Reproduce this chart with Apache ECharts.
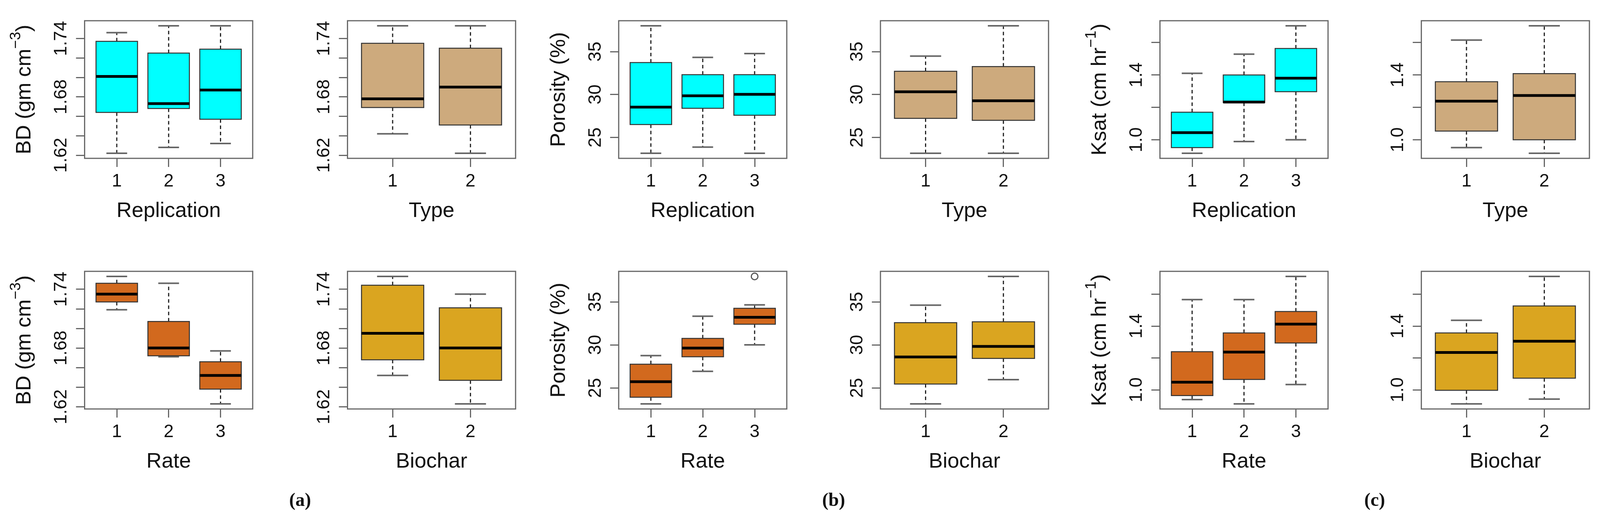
<!DOCTYPE html>
<html>
<head>
<meta charset="utf-8">
<script src="https://cdn.jsdelivr.net/npm/echarts@6/dist/echarts.min.js"></script>
<style>
html,body{margin:0;padding:0;background:#ffffff;overflow:hidden;}
#chart{width:100vw;height:100vh;}
</style>
</head>
<body>
<div id="chart"></div>
<script>
// ---------- categories (group codes on the x axes) ----------
const replicationGroups = [1, 2, 3];
const typeGroups = [1, 2];
const rateGroups = [1, 2, 3];
const biocharGroups = [1, 2];

// ---------- box statistics: [lower whisker, Q1, median, Q3, upper whisker] ----------
// (a) Bulk density, gm cm^-3
const bdReplication = [
  [1.622, 1.664, 1.701, 1.737, 1.746],
  [1.628, 1.668, 1.673, 1.725, 1.753],
  [1.632, 1.657, 1.687, 1.729, 1.753]
];
const bdType = [
  [1.642, 1.669, 1.678, 1.735, 1.753],
  [1.622, 1.651, 1.690, 1.730, 1.753]
];
const bdRate = [
  [1.719, 1.727, 1.735, 1.746, 1.753],
  [1.671, 1.672, 1.680, 1.707, 1.746],
  [1.623, 1.638, 1.652, 1.666, 1.677]
];
const bdBiochar = [
  [1.652, 1.668, 1.695, 1.744, 1.753],
  [1.623, 1.647, 1.680, 1.721, 1.735]
];

// (b) Porosity, %
const porosityReplication = [
  [23.16, 26.50, 28.53, 33.72, 38.00],
  [23.87, 28.40, 29.85, 32.31, 34.32],
  [23.16, 27.59, 30.02, 32.31, 34.77]
];
const porosityType = [
  [23.16, 27.22, 30.32, 32.71, 34.47],
  [23.16, 26.99, 29.27, 33.25, 38.00]
];
const porosityRate = [
  [23.15, 23.92, 25.73, 27.76, 28.76],
  [26.93, 28.62, 29.63, 30.75, 33.33],
  [30.00, 32.40, 33.21, 34.25, 34.65]
];
const porosityRateOutliers = [[3, 37.95]];
const porosityBiochar = [
  [23.15, 25.45, 28.60, 32.58, 34.61],
  [25.96, 28.43, 29.82, 32.68, 37.95]
];

// (c) Ksat, cm hr^-1
const ksatReplication = [
  [0.917, 0.952, 1.044, 1.170, 1.410],
  [0.989, 1.230, 1.233, 1.400, 1.528],
  [1.000, 1.297, 1.380, 1.563, 1.703]
];
const ksatType = [
  [0.952, 1.054, 1.238, 1.358, 1.615],
  [0.917, 1.000, 1.273, 1.408, 1.703]
];
const ksatRate = [
  [0.939, 0.964, 1.048, 1.239, 1.566],
  [0.912, 1.065, 1.237, 1.357, 1.566],
  [1.033, 1.294, 1.412, 1.491, 1.711]
];
const ksatBiochar = [
  [0.912, 0.997, 1.234, 1.357, 1.436],
  [0.942, 1.073, 1.305, 1.526, 1.711]
];

// ---------- tick values and labels ----------
const bdTicks = [1.62, 1.64, 1.66, 1.68, 1.70, 1.72, 1.74];
const bdTickLabels = [1.62, 1.68, 1.74];
const porosityTicks = [25, 30, 35];
const porosityTickLabels = [25, 30, 35];
const ksatTicks = [1.0, 1.2, 1.4, 1.6];
const ksatTickLabels = [1.0, 1.4];

// axis titles: [main text, superscript, closing text]
const bdTitle = ['BD (gm cm', '\u22123', ')'];
const porosityTitle = ['Porosity (%)', '', ''];
const ksatTitle = ['Ksat (cm hr', '\u22121', ')'];
const panelTags = ['(a)', '(b)', '(c)'];

// ---------- colours ----------
const colReplication = '#00FFFF';
const colType = '#CDAA7D';
const colRate = '#D2691E';
const colBiochar = '#DAA520';

// ---------- layout (reference pixels, 4236 x 1353 canvas) ----------
const REF_W = 4236, REF_H = 1353;
const colLefts = [224, 920, 1638, 2331, 3071, 3763];
const panelW = 445;
const rowTops = [53, 694];
const panelH = 352;
const tagY = 1282;
const FONT = '"Liberation Sans", Arial, "DejaVu Sans", sans-serif';

const variables = [
  {title: bdTitle, ticks: bdTicks, labels: bdTickLabels, dec: 2,
   panels: [[bdReplication, replicationGroups, 'Replication', colReplication, []],
            [bdType, typeGroups, 'Type', colType, []],
            [bdRate, rateGroups, 'Rate', colRate, []],
            [bdBiochar, biocharGroups, 'Biochar', colBiochar, []]]},
  {title: porosityTitle, ticks: porosityTicks, labels: porosityTickLabels, dec: 0,
   panels: [[porosityReplication, replicationGroups, 'Replication', colReplication, []],
            [porosityType, typeGroups, 'Type', colType, []],
            [porosityRate, rateGroups, 'Rate', colRate, porosityRateOutliers],
            [porosityBiochar, biocharGroups, 'Biochar', colBiochar, []]]},
  {title: ksatTitle, ticks: ksatTicks, labels: ksatTickLabels, dec: 1,
   panels: [[ksatReplication, replicationGroups, 'Replication', colReplication, []],
            [ksatType, typeGroups, 'Type', colType, []],
            [ksatRate, rateGroups, 'Rate', colRate, []],
            [ksatBiochar, biocharGroups, 'Biochar', colBiochar, []]]}
];

function renderBox(params, api) {
  const x = api.value(0);
  const lo = api.coord([x, api.value(1)]);
  const q1 = api.coord([x, api.value(2)]);
  const md = api.coord([x, api.value(3)]);
  const q3 = api.coord([x, api.value(4)]);
  const hi = api.coord([x, api.value(5)]);
  const cx = md[0];
  const hw = api.size([0.8, 0])[0] / 2;
  const sw = hw / 2;
  const color = api.visual('color');
  const dash = {stroke: '#222', lineWidth: 3, lineDash: [9, 7]};
  const staple = {stroke: '#666', lineWidth: 4};
  return {
    type: 'group',
    children: [
      {type: 'line', shape: {x1: cx, y1: q3[1], x2: cx, y2: hi[1]}, style: dash},
      {type: 'line', shape: {x1: cx, y1: q1[1], x2: cx, y2: lo[1]}, style: dash},
      {type: 'line', shape: {x1: cx - sw, y1: hi[1], x2: cx + sw, y2: hi[1]}, style: staple},
      {type: 'line', shape: {x1: cx - sw, y1: lo[1], x2: cx + sw, y2: lo[1]}, style: staple},
      {type: 'rect', shape: {x: cx - hw, y: q3[1], width: 2 * hw, height: q1[1] - q3[1]},
       style: {fill: color, stroke: '#333', lineWidth: 2.5}},
      {type: 'line', shape: {x1: cx - hw, y1: md[1], x2: cx + hw, y2: md[1]},
       style: {stroke: '#000', lineWidth: 7}}
    ]
  };
}

const chart = echarts.init(document.getElementById('chart'), null, {renderer: 'canvas'});
const sx = chart.getWidth() / REF_W;
const sy = chart.getHeight() / REF_H;

const grids = [], xAxes = [], yAxes = [], series = [], graphics = [];

variables.forEach(function (v, vi) {
  v.panels.forEach(function (p, pi) {
    const stats = p[0], groups = p[1], xname = p[2], color = p[3], outl = p[4];
    const row = pi < 2 ? 0 : 1;
    const colIdx = vi * 2 + (pi % 2);
    const idx = grids.length;
    grids.push({left: colLefts[colIdx] * sx, top: rowTops[row] * sy, width: panelW * sx, height: panelH * sy,
      show: true, borderColor: '#666', borderWidth: 3, backgroundColor: 'transparent',
      containLabel: false, outerBoundsMode: 'none'});

    // R style axis limits: range of values extended by 4 %
    let vals = [];
    stats.forEach(function (s) { vals = vals.concat(s); });
    outl.forEach(function (o) { vals.push(o[1]); });
    const vmin = Math.min.apply(null, vals), vmax = Math.max.apply(null, vals);
    const r = vmax - vmin;
    const n = groups.length;
    xAxes.push({
      gridIndex: idx, type: 'value',
      min: 0.5 - 0.04 * n, max: n + 0.5 + 0.04 * n,
      axisLine: {show: false},
      splitLine: {show: false},
      axisTick: {show: true, customValues: groups, length: 22, lineStyle: {color: '#666', width: 3}},
      axisLabel: {show: true, customValues: groups, margin: 36, fontSize: 46, color: '#111', fontFamily: FONT,
        formatter: function (val) { return String(Math.round(val)); }},
      name: xname, nameLocation: 'middle', nameGap: 108,
      nameTextStyle: {fontSize: 54, color: '#111', fontFamily: FONT}
    });
    const dec = v.dec;
    const ya = {
      gridIndex: idx, type: 'value',
      min: vmin - 0.04 * r, max: vmax + 0.04 * r,
      axisLine: {show: false},
      splitLine: {show: false},
      axisTick: {show: true, customValues: v.ticks, length: 22, lineStyle: {color: '#666', width: 3}},
      axisLabel: {show: true, customValues: v.labels, rotate: 90, margin: 36, fontSize: 46, color: '#111', fontFamily: FONT,
        formatter: function (val) { return val.toFixed(dec); }}
    };
    if (pi % 2 === 0) {
      const t = v.title;
      ya.name = t[1] ? '{t|' + t[0] + '}{s|' + t[1] + '}{t|' + t[2] + '}' : '{t|' + t[0] + '}';
      ya.nameLocation = 'middle';
      ya.nameGap = 126;
      ya.nameTextStyle = {fontSize: 54, color: '#111', fontFamily: FONT,
        rich: {t: {fontSize: 54, lineHeight: 68, verticalAlign: 'bottom', fontFamily: FONT, color: '#111'},
               s: {fontSize: 38, lineHeight: 68, verticalAlign: 'top', fontFamily: FONT, color: '#111'}}};
    }
    yAxes.push(ya);

    series.push({
      type: 'custom', xAxisIndex: idx, yAxisIndex: idx,
      renderItem: renderBox,
      itemStyle: {color: color},
      encode: {x: 0, y: [1, 2, 3, 4, 5]},
      data: groups.map(function (g, gi) { return [g].concat(stats[gi]); }),
      silent: true, animation: false
    });
    if (outl.length) {
      series.push({
        type: 'scatter', xAxisIndex: idx, yAxisIndex: idx,
        symbol: 'circle', symbolSize: 17,
        itemStyle: {color: '#ffffff', borderColor: '#555555', borderWidth: 3, opacity: 1},
        data: outl, silent: true, animation: false, z: 5
      });
    }
  });
  const cx = (colLefts[vi * 2] + colLefts[vi * 2 + 1] + panelW) / 2 * sx;
  graphics.push({type: 'text', x: cx, y: tagY * sy,
    style: {text: panelTags[vi], align: 'center', verticalAlign: 'middle',
      font: 'bold 48px "Liberation Serif", "Times New Roman", serif', fill: '#111'}});
});

chart.setOption({
  backgroundColor: '#ffffff',
  animation: false,
  grid: grids,
  xAxis: xAxes,
  yAxis: yAxes,
  series: series,
  graphic: graphics
});
</script>
</body>
</html>
